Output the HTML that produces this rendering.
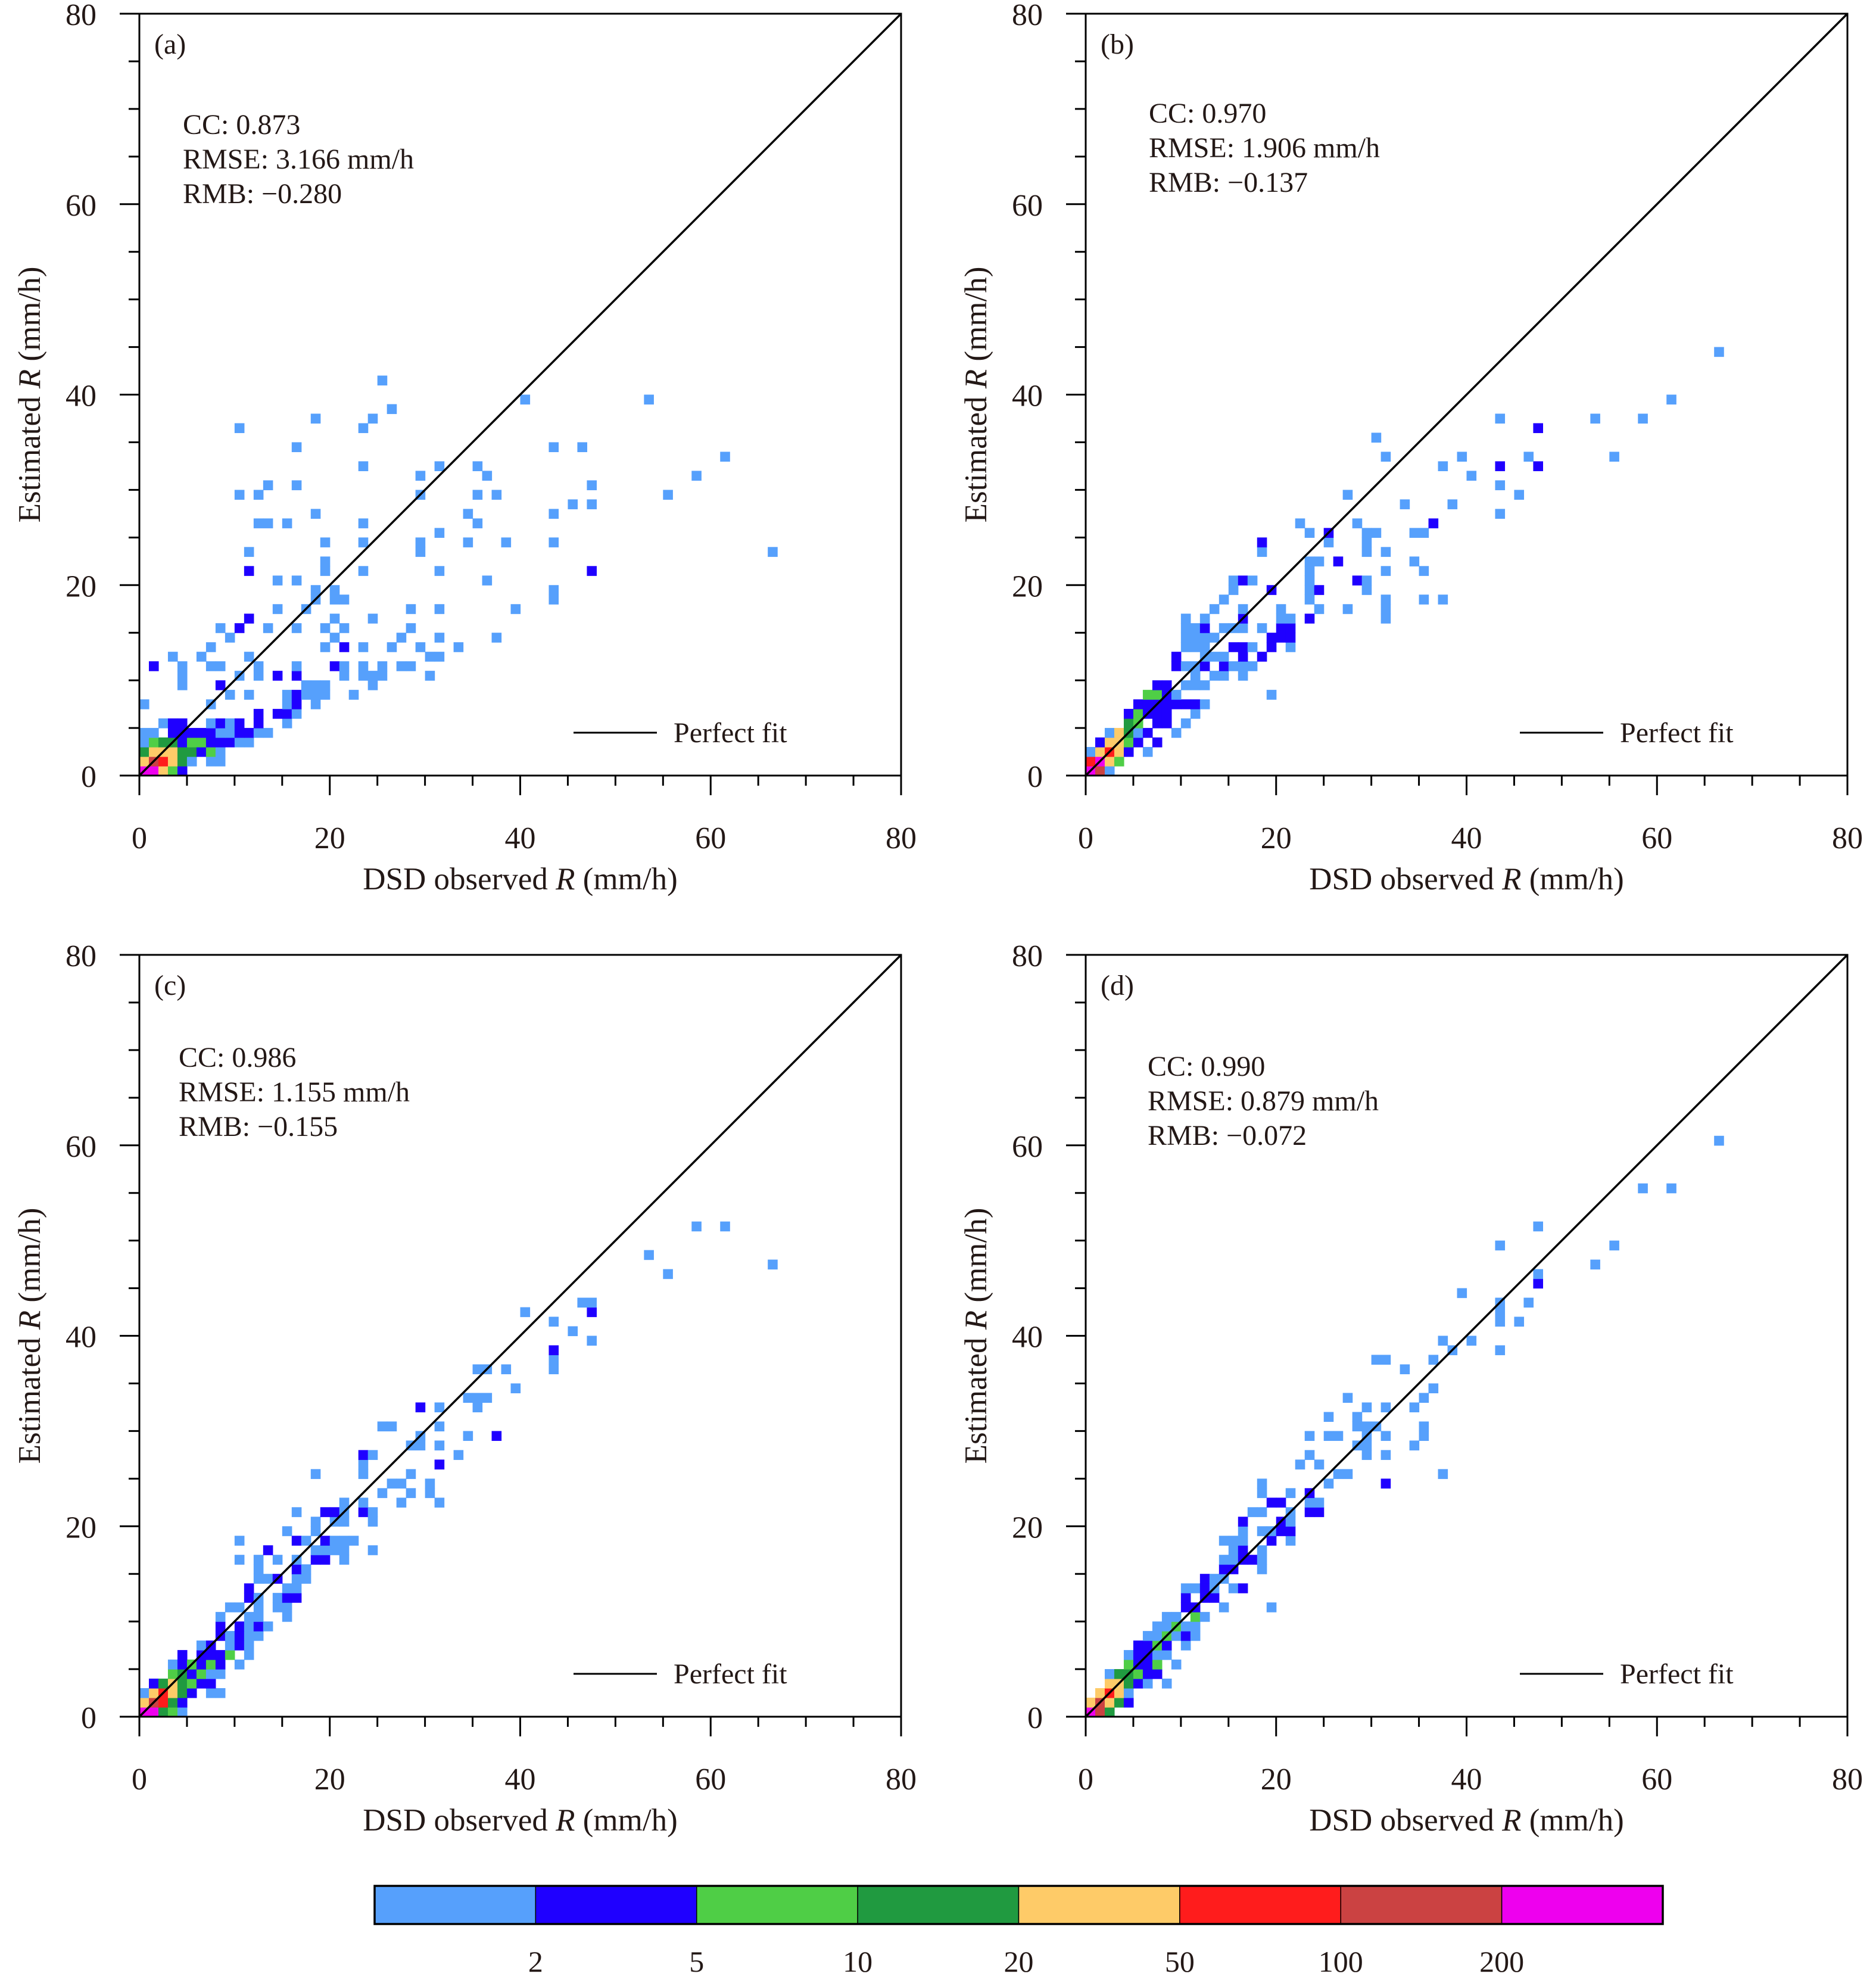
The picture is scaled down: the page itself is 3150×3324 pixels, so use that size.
<!DOCTYPE html>
<html><head><meta charset="utf-8"><title>Rain-rate scatter density</title>
<style>
html,body{margin:0;padding:0;background:#fff;}
svg{display:block;font-family:"Liberation Serif","Times New Roman",serif;}
</style></head>
<body>
<svg id="fig" width="3150" height="3324" viewBox="0 0 3150 3324" xmlns="http://www.w3.org/2000/svg"></svg>
<script>
// ---- data (cells: [observed bin, estimated bin, count]) ----
const cellsA = [[0,0,300],[1,0,300],[2,0,30],[3,0,7],[4,0,3],
[0,1,30],[1,1,150],[2,1,70],[3,1,30],[4,1,15],[5,1,1],[7,1,1],[8,1,1],
[0,2,15],[1,2,30],[2,2,30],[3,2,30],[4,2,15],[5,2,15],[6,2,3],[7,2,7],[8,2,1],
[0,3,1],[1,3,7],[2,3,15],[3,3,15],[4,3,3],[5,3,7],[6,3,7],[7,3,3],[8,3,3],[9,3,3],[10,3,1],[11,3,1],
[0,4,1],[1,4,1],[3,4,3],[4,4,3],[5,4,3],[6,4,3],[7,4,3],[8,4,1],[9,4,1],[10,4,3],[11,4,3],[12,4,1],[13,4,1],
[2,5,1],[3,5,3],[4,5,3],[7,5,1],[8,5,3],[9,5,1],[10,5,3],[12,5,3],[15,5,1],
[12,6,3],[14,6,3],[15,6,3],[16,6,1],
[0,7,1],[7,7,1],[15,7,1],[16,7,3],[18,7,1],
[9,8,1],[11,8,1],[15,8,1],[16,8,3],[17,8,1],[18,8,1],[19,8,1],[22,8,1],
[4,9,1],[8,9,3],[17,9,1],[18,9,1],[19,9,1],[24,9,1],
[4,10,1],[10,10,1],[12,10,1],[14,10,3],[16,10,3],[21,10,1],[23,10,1],[24,10,1],[25,10,1],[30,10,1],
[1,11,3],[4,11,1],[7,11,1],[8,11,1],[12,11,1],[16,11,1],[20,11,3],[21,11,1],[23,11,1],[25,11,1],[27,11,1],[28,11,1],
[3,12,1],[6,12,1],[11,12,1],[30,12,1],[31,12,1],
[7,13,1],[19,13,1],[21,13,3],[23,13,1],[26,13,1],[29,13,1],[33,13,1],
[9,14,1],[20,14,1],[27,14,1],[31,14,1],[37,14,1],
[8,15,1],[10,15,3],[13,15,1],[16,15,1],[19,15,1],[21,15,1],[28,15,1],
[11,16,3],[20,16,1],[24,16,1],
[14,17,1],[17,17,1],[28,17,1],[31,17,1],[39,17,1],
[18,18,1],[20,18,1],[21,18,1],[43,18,1],
[18,19,1],[20,19,1],[43,19,1],
[14,20,1],[16,20,1],[36,20,1],
[11,21,3],[19,21,1],[23,21,1],[31,21,1],[47,21,3],
[19,22,1],[11,23,1],[29,23,1],[66,23,1],
[19,24,1],[23,24,1],[29,24,1],[34,24,1],[38,24,1],[43,24,1],
[31,25,1],[12,26,1],[13,26,1],[15,26,1],[23,26,1],[35,26,1],
[18,27,1],[34,27,1],[43,27,1],[45,28,1],[47,28,1],
[10,29,1],[12,29,1],[29,29,1],[35,29,1],[37,29,1],[55,29,1],
[13,30,1],[16,30,1],[47,30,1],[29,31,1],[36,31,1],[58,31,1],
[23,32,1],[31,32,1],[35,32,1],[61,33,1],[16,34,1],[43,34,1],[46,34,1],
[10,36,1],[23,36,1],[18,37,1],[24,37,1],[26,38,1],[40,39,1],[53,39,1],[25,41,1]];

const cellsB = [[0,0,300],[1,0,150],[2,0,1],
[0,1,70],[1,1,300],[2,1,30],[3,1,7],
[0,2,1],[1,2,30],[2,2,70],[3,2,30],[4,2,3],[6,2,1],
[1,3,3],[2,3,30],[3,3,30],[4,3,7],[5,3,3],[7,3,3],
[2,4,1],[3,4,30],[4,4,15],[5,4,1],[6,4,3],[9,4,1],
[4,5,15],[5,5,7],[7,5,3],[8,5,3],[10,5,1],
[4,6,3],[5,6,7],[6,6,3],[7,6,3],[8,6,3],[11,6,1],
[5,7,3],[6,7,3],[7,7,3],[8,7,3],[9,7,3],[10,7,3],[11,7,3],[12,7,1],
[6,8,7],[7,8,7],[8,8,3],[9,8,1],[19,8,1],
[7,9,3],[8,9,3],[10,9,1],[11,9,1],[12,9,1],
[11,10,1],[13,10,1],[14,10,1],[16,10,1],
[9,11,3],[10,11,1],[11,11,1],[12,11,3],[14,11,3],[15,11,1],[16,11,1],[17,11,1],
[9,12,3],[12,12,1],[13,12,1],[14,12,1],[16,12,3],[18,12,3],
[10,13,1],[11,13,1],[12,13,1],[15,13,3],[16,13,3],[17,13,1],[19,13,3],[21,13,1],
[10,14,1],[11,14,1],[12,14,1],[13,14,1],[19,14,3],[20,14,3],[21,14,3],
[10,15,1],[11,15,1],[12,15,3],[14,15,1],[15,15,1],[16,15,1],[18,15,1],[20,15,3],[21,15,3],
[10,16,1],[12,16,1],[16,16,3],[20,16,1],[21,16,1],[23,16,3],[31,16,1],
[13,17,1],[16,17,1],[20,17,1],[24,17,1],[27,17,1],[31,17,1],
[14,18,1],[23,18,1],[31,18,1],[35,18,1],[37,18,1],
[15,19,1],[19,19,3],[23,19,1],[24,19,3],[29,19,1],
[15,20,1],[16,20,3],[17,20,1],[23,20,1],[28,20,3],[29,20,1],
[23,21,1],[31,21,1],[35,21,1],
[23,22,1],[24,22,1],[26,22,3],[34,22,1],
[18,23,1],[29,23,1],[31,23,1],
[18,24,3],[25,24,1],[29,24,1],
[23,25,1],[25,25,3],[29,25,1],[30,25,1],[34,25,1],[35,25,1],
[22,26,1],[28,26,1],[36,26,3],
[43,27,1],[33,28,1],[38,28,1],[27,29,1],[45,29,1],[43,30,1],[40,31,1],
[37,32,1],[43,32,3],[47,32,3],
[31,33,1],[39,33,1],[46,33,1],[55,33,1],
[30,35,1],[47,36,3],[43,37,1],[53,37,1],[58,37,1],[61,39,1],[66,44,1]];

const cellsC = [[0,0,300],[1,0,300],[2,0,15],[3,0,7],[4,0,1],
[0,1,30],[1,1,150],[2,1,70],[3,1,15],[4,1,3],
[0,2,1],[1,2,30],[2,2,70],[3,2,30],[4,2,15],[5,2,3],[7,2,1],[8,2,1],
[1,3,3],[2,3,15],[3,3,30],[4,3,15],[5,3,7],[6,3,3],[7,3,3],
[3,4,7],[4,4,15],[5,4,3],[6,4,7],[7,4,1],[8,4,1],
[3,5,1],[4,5,3],[5,5,7],[6,5,3],[7,5,7],[8,5,3],[10,5,1],
[4,6,3],[6,6,3],[7,6,3],[8,6,3],[9,6,7],[11,6,1],
[6,7,1],[7,7,3],[9,7,1],[10,7,3],[11,7,1],
[8,8,3],[9,8,1],[10,8,3],[11,8,1],[12,8,1],
[8,9,3],[10,9,3],[11,9,1],[12,9,3],[13,9,1],
[8,10,1],[11,10,1],[12,10,1],[15,10,1],
[9,11,1],[10,11,1],[12,11,1],[14,11,1],[15,11,1],
[11,12,3],[12,12,1],[14,12,1],[15,12,3],[16,12,3],
[11,13,3],[15,13,1],[16,13,1],
[12,14,1],[13,14,1],[14,14,3],[16,14,1],[17,14,1],
[12,15,1],[16,15,3],[17,15,1],
[10,16,1],[12,16,1],[14,16,1],[16,16,1],[18,16,3],[19,16,3],[21,16,1],
[13,17,3],[18,17,1],[19,17,1],[20,17,1],[21,17,1],[24,17,1],
[10,18,1],[16,18,3],[17,18,1],[19,18,3],[20,18,1],[21,18,1],[22,18,1],
[15,19,1],[18,19,1],
[18,20,1],[20,20,1],[21,20,1],[24,20,1],
[16,21,1],[19,21,3],[20,21,3],[21,21,1],[23,21,3],[24,21,1],
[21,22,1],[23,22,1],[27,22,1],[31,22,1],
[25,23,1],[28,23,1],[30,23,1],
[26,24,1],[27,24,1],[30,24,1],
[18,25,1],[23,25,1],[28,25,1],
[23,26,1],[31,26,3],
[23,27,3],[24,27,1],[33,27,1],
[28,28,1],[29,28,1],[31,28,1],
[29,29,1],[34,29,1],[37,29,3],
[25,30,1],[26,30,1],[31,30,1],
[29,32,3],[31,32,1],[35,32,1],
[34,33,1],[35,33,1],[36,33,1],[39,34,1],
[35,36,1],[36,36,1],[38,36,1],[43,36,1],[43,37,1],[43,38,3],
[47,39,1],[45,40,1],[43,41,1],[40,42,1],[47,42,3],[46,43,1],[47,43,1],
[55,46,1],[66,47,1],[53,48,1],[58,51,1],[61,51,1]];

const cellsD = [[0,0,300],[1,0,150],[2,0,15],
[0,1,30],[1,1,150],[2,1,30],[3,1,15],[4,1,3],
[1,2,30],[2,2,70],[3,2,30],[4,2,1],
[2,3,30],[3,3,30],[4,3,15],[5,3,3],[6,3,1],[8,3,1],
[2,4,1],[3,4,15],[4,4,15],[5,4,7],[6,4,3],[7,4,3],
[4,5,7],[5,5,3],[6,5,3],[7,5,7],[9,5,1],
[4,6,1],[5,6,3],[6,6,3],[7,6,1],[8,6,1],
[5,7,3],[6,7,3],[7,7,7],[8,7,3],[10,7,1],
[6,8,1],[7,8,1],[8,8,7],[9,8,1],[10,8,3],[11,8,1],
[7,9,1],[8,9,1],[9,9,7],[10,9,1],[11,9,1],
[8,10,1],[9,10,1],[11,10,7],[12,10,1],
[10,11,3],[11,11,3],[14,11,1],[19,11,1],
[10,12,3],[12,12,3],[13,12,3],
[10,13,1],[11,13,1],[12,13,3],[13,13,1],[15,13,1],[16,13,3],
[12,14,3],[13,14,1],[14,14,1],
[14,15,3],[15,15,3],[18,15,1],
[14,16,1],[15,16,1],[16,16,3],[17,16,3],[18,16,1],
[15,17,1],[16,17,3],[18,17,1],
[14,18,1],[15,18,1],[16,18,1],[19,18,3],[21,18,1],
[16,19,1],[18,19,1],[19,19,1],[20,19,3],[21,19,3],
[16,20,3],[20,20,3],[21,20,1],
[17,21,1],[18,21,1],[21,21,1],[23,21,3],[24,21,3],
[19,22,3],[20,22,3],[23,22,1],[24,22,1],
[18,23,1],[21,23,1],[23,23,3],
[18,24,1],[25,24,1],[31,24,3],
[26,25,1],[27,25,1],[37,25,1],
[22,26,1],[24,26,1],
[23,27,1],[29,27,1],[31,27,1],
[28,28,1],[29,28,1],[34,28,1],
[23,29,1],[25,29,1],[26,29,1],[29,29,1],[31,29,1],[35,29,1],
[28,30,1],[29,30,1],[30,30,1],[35,30,1],
[25,31,1],[28,31,1],
[29,32,1],[31,32,1],[34,32,1],
[27,33,1],[35,33,1],[36,34,1],[33,36,1],
[30,37,1],[31,37,1],[36,37,1],
[38,38,1],[43,38,1],[37,39,1],[40,39,1],
[43,41,1],[45,41,1],[43,42,1],[43,43,1],[46,43,1],
[39,44,1],[47,45,3],[47,46,1],[53,47,1],[43,49,1],[55,49,1],[47,51,1],
[58,55,1],[61,55,1],[66,60,1]];

const colorBounds = [2,5,10,20,50,100,200];
const colorBoundLabels = ["2","5","10","20","50","100","200"];
const palette = ["#56a0fc","#1f00ff","#4fce46","#209a40","#fecb68","#ff1c1c","#cb4242","#ee00ee"];
const axisTicks = [0,20,40,60,80];
const minorTicks = [5,10,15,25,30,35,45,50,55,65,70,75];
const statsA = ["CC: 0.873","RMSE: 3.166 mm/h","RMB: \u22120.280"];
const statsB = ["CC: 0.970","RMSE: 1.906 mm/h","RMB: \u22120.137"];
const statsC = ["CC: 0.986","RMSE: 1.155 mm/h","RMB: \u22120.155"];
const statsD = ["CC: 0.990","RMSE: 0.879 mm/h","RMB: \u22120.072"];

const NS = "http://www.w3.org/2000/svg";
const svg = document.getElementById("fig");
const INK = "#231816";
function mk(tag, attrs, parent){
  const e = document.createElementNS(NS, tag);
  for (const k in attrs) e.setAttribute(k, attrs[k]);
  (parent||svg).appendChild(e);
  return e;
}
function colorFor(n){
  let i = 0;
  while (i < colorBounds.length && n >= colorBounds[i]) i++;
  return palette[i];
}

function panel(key, left, bottom, cells, stats, statX, statY0){
  const S = 1279, vmax = 80, u = S/vmax, top = bottom - S;
  const xs = v => left + v*u;
  const ys = v => bottom - v*u;
  const g = mk("g", {});
  
  
  const cg = mk("g", {}, g);
  
  
  cells.forEach(c => {
    const r = mk("rect", {x: xs(c[0]), y: ys(c[1]+1), width: u+0.6, height: u+0.6, fill: colorFor(c[2])}, cg);
    
    
  });
  const diag = mk("line", {x1: xs(0), y1: ys(0), x2: xs(80), y2: ys(80), stroke: "#000", "stroke-width": 3.5}, g);
  
  
  const frame = mk("rect", {x: left, y: top, width: S, height: S, fill: "none", stroke: "#000", "stroke-width": 3}, g);
  
  
  axisTicks.forEach(t => {
    const a = mk("line", {x1: xs(t), y1: bottom, x2: xs(t), y2: bottom+33, stroke: "#000", "stroke-width": 3}, g);
    
    
    const b = mk("line", {x1: left-33, y1: ys(t), x2: left, y2: ys(t), stroke: "#000", "stroke-width": 3}, g);
    
    
    const tx = mk("text", {x: xs(t), y: bottom+122, "font-size": 52, "text-anchor": "middle", fill: INK}, g);
    tx.textContent = String(t);
    
    
    const ty = mk("text", {x: left-72, y: ys(t)+19, "font-size": 52, "text-anchor": "end", fill: INK}, g);
    ty.textContent = String(t);
    
    
  });
  minorTicks.forEach(t => {
    const a = mk("line", {x1: xs(t), y1: bottom, x2: xs(t), y2: bottom+17, stroke: "#000", "stroke-width": 3}, g);
    
    
    const b = mk("line", {x1: left-18, y1: ys(t), x2: left, y2: ys(t), stroke: "#000", "stroke-width": 3}, g);
    
    
  });
  const xt = mk("text", {x: left + S/2, y: bottom+191, "font-size": 53, "text-anchor": "middle", fill: INK}, g);
  xt.innerHTML = 'DSD observed <tspan font-style="italic">R</tspan> (mm/h)';
  
  
  const cy = top + S/2, cx = left - 167;
  const yt = mk("text", {x: cx, y: cy, "font-size": 53, "text-anchor": "middle", fill: INK, transform: "rotate(-90 " + cx + " " + cy + ")"}, g);
  yt.innerHTML = 'Estimated <tspan font-style="italic">R</tspan> (mm/h)';
  
  
  const pl = mk("text", {x: left+25, y: top+67, "font-size": 48, fill: INK}, g);
  pl.textContent = "(" + key + ")";
  
  
  stats.forEach((s, i) => {
    const st = mk("text", {x: left+statX, y: top+statY0+i*58, "font-size": 48, fill: INK}, g);
    st.textContent = s;
    
    
  });
  const lg = mk("g", {}, g);
  
  
  const ll = mk("line", {x1: left+729, y1: bottom-72, x2: left+869, y2: bottom-72, stroke: "#000", "stroke-width": 3}, lg);
  
  
  const lt = mk("text", {x: left+897, y: bottom-56, "font-size": 48, fill: INK}, lg);
  lt.textContent = "Perfect fit";
  
  
}

panel("a", 234, 1302, cellsA, statsA, 73, 202);
panel("b", 1823, 1302, cellsB, statsB, 106, 183);
panel("c", 234, 2882, cellsC, statsC, 66, 188);
panel("d", 1823, 2882, cellsD, statsD, 104, 203);

(function(){
  const x0 = 629, x1 = 2792, y0 = 3166, y1 = 3230;
  const n = palette.length, w = (x1-x0)/n;
  const g = mk("g", {});
  
  
  palette.forEach((c, i) => {
    const r = mk("rect", {x: x0+i*w, y: y0, width: w, height: y1-y0, fill: c, stroke: "#000", "stroke-width": 1.5}, g);
    
    
  });
  const fr = mk("rect", {x: x0, y: y0, width: x1-x0, height: y1-y0, fill: "none", stroke: "#000", "stroke-width": 3.5}, g);
  
  
  colorBoundLabels.forEach((s, i) => {
    const t = mk("text", {x: x0+(i+1)*w, y: 3310, "font-size": 50, "text-anchor": "middle", fill: INK}, g);
    t.textContent = s;
    
    
  });
})();
</script>
</body></html>
